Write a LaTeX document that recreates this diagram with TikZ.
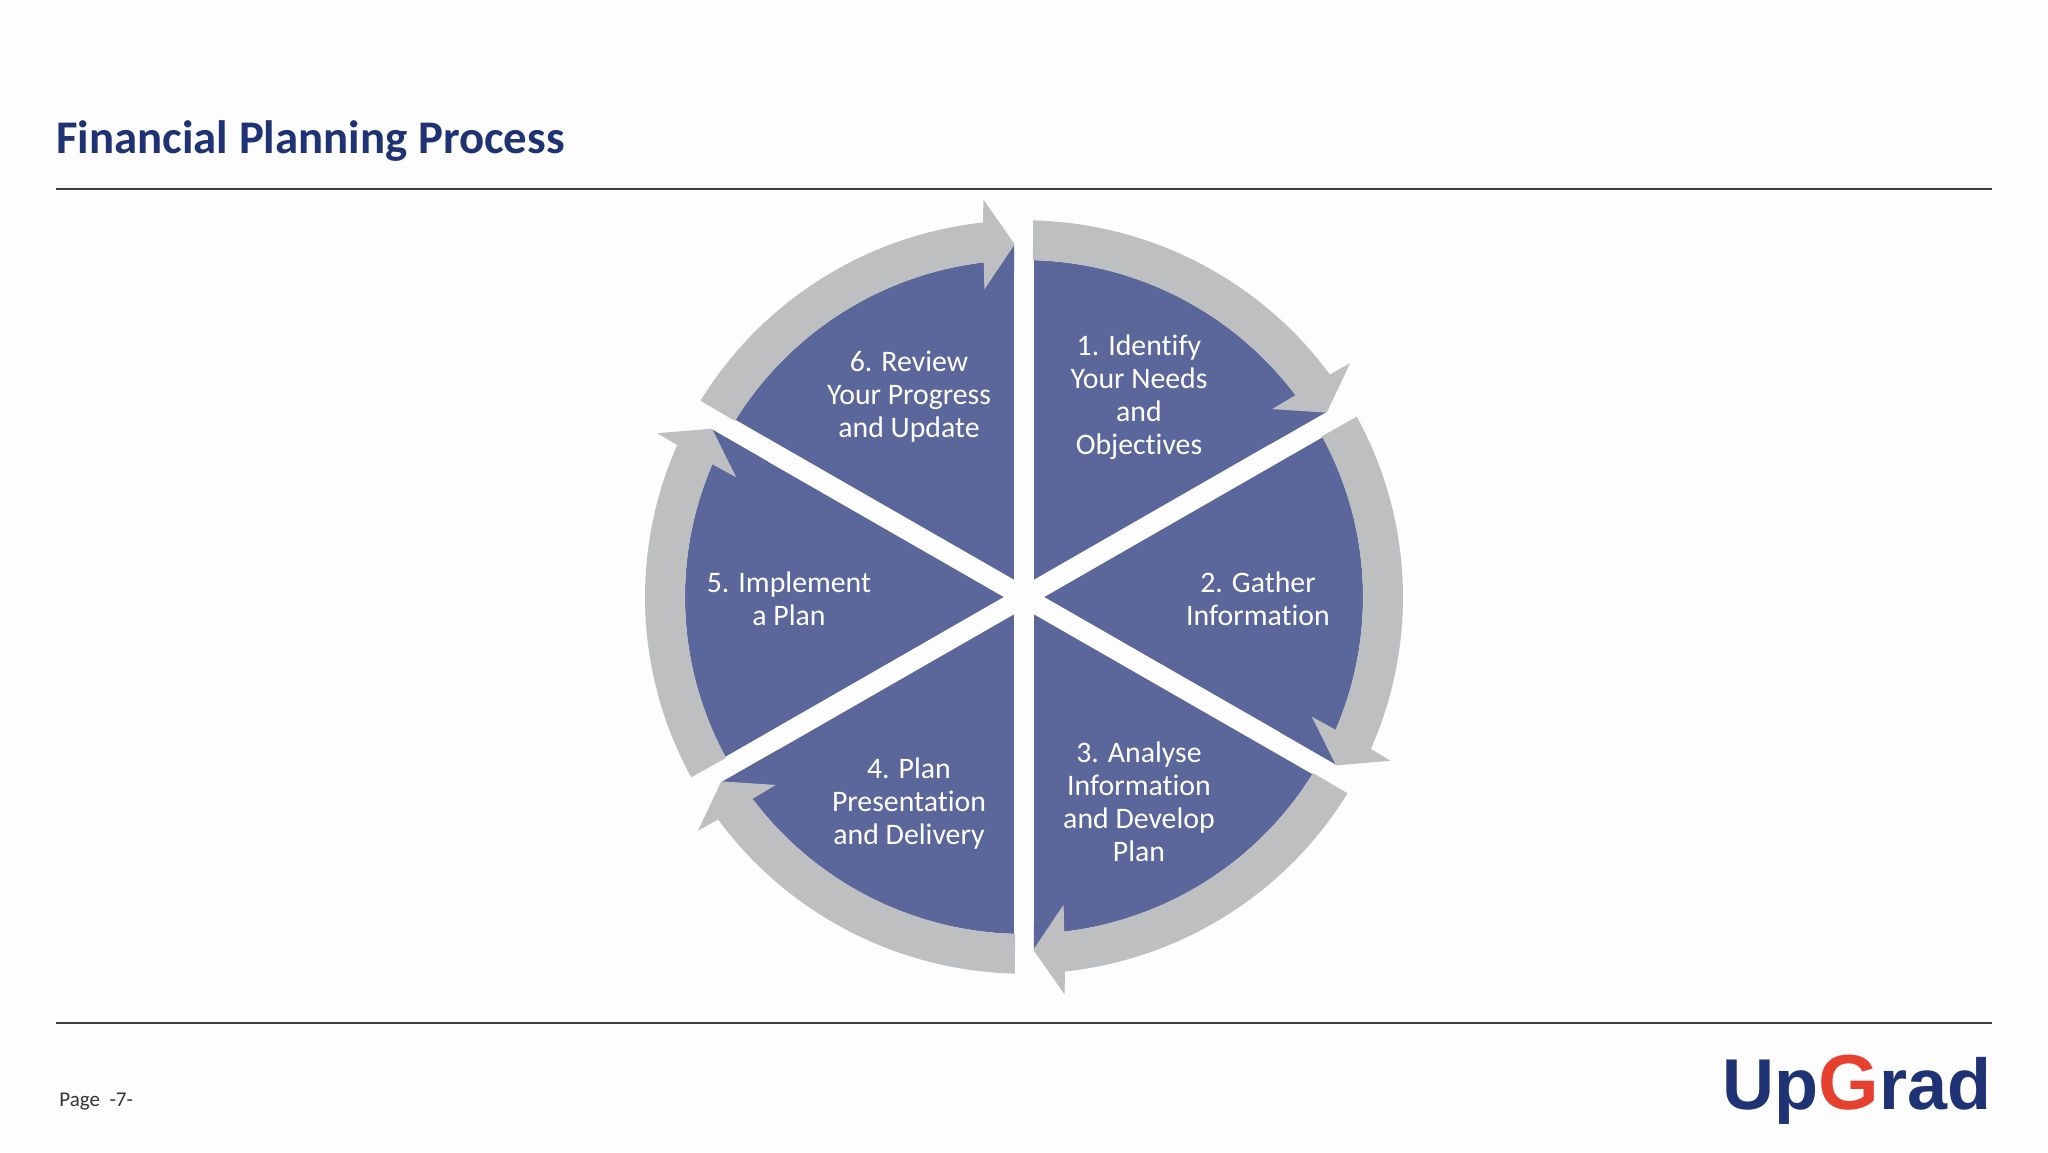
\documentclass[tikz,border=0pt]{standalone}
\usepackage{fontspec}
\setmainfont{Carlito}[Ligatures=CommonOff]
\newfontfamily\logofont{Liberation Sans}[BoldFont={Liberation Sans Bold}]

\begin{document}
\begin{tikzpicture}[
x=0.5pt,y=0.5pt,
bluedisc/.style={fill=wheelblue},
ringarrow/.style={fill=ringgray},
spoke/.style={line width=10pt, pagewhite},
ruleline/.style={line width=1pt, rulegray},
segtext/.style={text=white, align=center, font=\fontsize{14.9}{16.5}\selectfont, inner sep=0pt}]

\definecolor{pagewhite}{HTML}{FDFDFE}
\definecolor{wheelblue}{HTML}{5B669B}
\definecolor{ringgray}{HTML}{BEBFC1}
\definecolor{rulegray}{HTML}{3F3F3F}
\definecolor{titleblue}{HTML}{1F3274}
\definecolor{logored}{HTML}{E8402F}

\useasboundingbox (-1024,-555) rectangle (1024,597);
\fill[pagewhite] (-1024,-555) rectangle (1024,597);

\node[anchor=base west, inner sep=0pt, text=titleblue, font=\fontsize{23.4}{28}\selectfont\bfseries] (title) at (-968,444) {Financial Planning Process};

\draw[ruleline] (-968,408) -- (968,408);
\draw[ruleline] (-968,-426) -- (968,-426);

\begin{scope}[yscale=0.994]

\fill[bluedisc] (0,0) circle (339);

\draw[spoke] (90:345) -- (-90:345);
\draw[spoke] (30:345) -- (210:345);
\draw[spoke] (150:345) -- (-30:345);

\fill[bluedisc] (31.6:355) -- (37.3:312) -- (32:290) -- cycle;
\fill[bluedisc] (-28.4:355) -- (-22.7:312) -- (-28:290) -- cycle;
\fill[bluedisc] (-88.4:355) -- (-82.7:312) -- (-88:290) -- cycle;
\fill[bluedisc] (-148.4:355) -- (-142.7:312) -- (-148:290) -- cycle;
\fill[bluedisc] (-208.4:355) -- (-202.7:312) -- (-208:290) -- cycle;
\fill[bluedisc] (91.6:355) -- (97.3:312) -- (92:290) -- cycle;

\fill[ringarrow] (88.6:379) arc (88.6:36.2:379) -- (35.8:402) -- (31.5:355) -- (37.3:312) -- (36.8:339) arc (36.8:88.5:339) -- cycle;
\fill[ringarrow] (28.6:379) arc (28.6:-23.8:379) -- (-24.2:402) -- (-28.5:355) -- (-22.7:312) -- (-23.2:339) arc (-23.2:28.5:339) -- cycle;
\fill[ringarrow] (-31.4:379) arc (-31.4:-83.8:379) -- (-84.2:402) -- (-88.5:355) -- (-82.7:312) -- (-83.2:339) arc (-83.2:-31.5:339) -- cycle;
\fill[ringarrow] (-91.4:379) arc (-91.4:-143.8:379) -- (-144.2:402) -- (-148.5:355) -- (-142.7:312) -- (-143.2:339) arc (-143.2:-91.5:339) -- cycle;
\fill[ringarrow] (-151.4:379) arc (-151.4:-203.8:379) -- (-204.2:402) -- (-208.5:355) -- (-202.7:312) -- (-203.2:339) arc (-203.2:-151.5:339) -- cycle;
\fill[ringarrow] (148.6:379) arc (148.6:96.2:379) -- (95.8:402) -- (91.5:355) -- (97.3:312) -- (96.8:339) arc (96.8:148.5:339) -- cycle;

\end{scope}

\node[segtext] (identify) at (115,200) {1. Identify\\Your Needs\\and\\Objectives};
\node[segtext] (gather) at (234,-2) {2. Gather\\Information};
\node[segtext] (analyse) at (115,-205) {3. Analyse\\Information\\and Develop\\Plan};
\node[segtext] (delivery) at (-115,-207) {4. Plan\\Presentation\\and Delivery};
\node[segtext] (implement) at (-235,-2) {5. Implement\\a Plan};
\node[segtext] (review) at (-115,200) {6. Review\\Your Progress\\and Update};

\node[anchor=base west, inner sep=0pt, font=\fontsize{10.5}{12}\selectfont, text=black!80] (page) at (-965,-509) {Page\ \ -7-};

\node[anchor=base east, inner sep=0pt, text=titleblue, font=\logofont\bfseries\fontsize{36}{40}\selectfont] (logo) at (968,-512) {Up\textcolor{logored}{\fontsize{39}{40}\selectfont G}rad};

\end{tikzpicture}
\end{document}
